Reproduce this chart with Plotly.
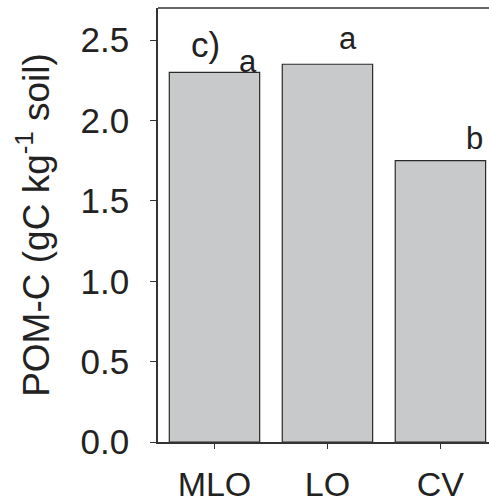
import plotly.graph_objects as go

categories = ["MLO", "LO", "CV"]
values = [2.30, 2.35, 1.75]
letters = ["a", "a", "b"]
y_ticks = [0.0, 0.5, 1.0, 1.5, 2.0, 2.5]
y_tick_labels = ["0.0", "0.5", "1.0", "1.5", "2.0", "2.5"]

FONT = "Liberation Sans, Arial, sans-serif"
TXT = "#222222"
AX = "#333333"

fig = go.Figure()
fig.add_trace(go.Bar(
    x=list(range(len(categories))), y=values,
    width=0.8,
    marker=dict(color="#c8c9cb", line=dict(color="#2a2a2a", width=1.2)),
    showlegend=False,
))

# significance letters
letter_offsets = [(0.30, 2.37), (0.18, 2.51), (0.30, 1.89)]
for i, (lt, (dx, yy)) in enumerate(zip(letters, letter_offsets)):
    fig.add_annotation(x=i + dx, y=yy, text=lt, showarrow=False,
                       font=dict(family=FONT, size=31, color=TXT),
                       xanchor="center", yanchor="middle")
fig.add_annotation(x=-0.08, y=2.47, text="c)", showarrow=False,
                   font=dict(family=FONT, size=35, color=TXT),
                   xanchor="center", yanchor="middle")

# top border line
fig.add_shape(type="line", xref="paper", yref="paper", x0=0, x1=1, y0=1, y1=1,
              line=dict(color=AX, width=1.5))

fig.update_layout(
    width=489, height=504,
    margin=dict(l=158, r=0, t=8, b=62, autoexpand=False),
    plot_bgcolor="white", paper_bgcolor="white",
    font=dict(family=FONT, size=35, color=TXT),
    bargap=0.2,
    xaxis=dict(
        range=[-0.5, 2.43], automargin=False,
        tickmode="array", tickvals=list(range(len(categories))), ticktext=categories,
        showline=True, linecolor=AX, linewidth=1.5,
        ticks="outside", ticklen=5, tickcolor=AX, tickwidth=1.2,
        ticklabelstandoff=6,
        showgrid=False, zeroline=False,
        tickfont=dict(family=FONT, size=34, color=TXT),
    ),
    yaxis=dict(
        range=[0, 2.7], automargin=False,
        tickmode="array", tickvals=y_ticks, ticktext=y_tick_labels,
        showline=True, linecolor=AX, linewidth=1.5,
        ticks="outside", ticklen=6, tickcolor=AX, tickwidth=1.2,
        ticklabelstandoff=14,
        showgrid=False, zeroline=False,
        tickfont=dict(family=FONT, size=35, color=TXT),
        title=dict(text="POM-C (gC kg<sup>-1</sup> soil)", standoff=20,
                   font=dict(family=FONT, size=37, color=TXT)),
    ),
)

fig.write_html(
    "out.html",
    config={"displayModeBar": False},
    post_script="document.body.style.margin='0';document.body.style.overflow='hidden';",
)
